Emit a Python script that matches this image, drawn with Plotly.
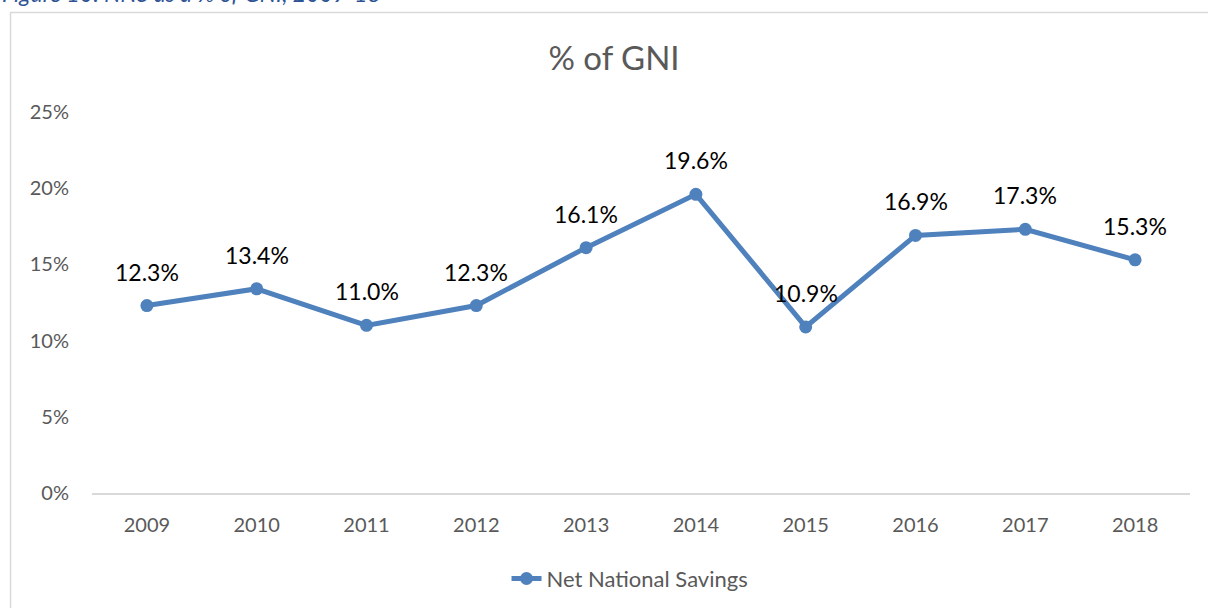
import plotly.graph_objects as go

years = ["2009", "2010", "2011", "2012", "2013", "2014", "2015", "2016", "2017", "2018"]
nns_pct = [12.3, 13.4, 11.0, 12.3, 16.1, 19.6, 10.9, 16.9, 17.3, 15.3]
y_ticks = [0, 5, 10, 15, 20, 25]
y_tick_labels = ["0%", "5%", "10%", "15%", "20%", "25%"]
series_name = "Net National Savings"
chart_title = "% of GNI"
caption = "Figure 10: NNS as a % of GNI, 2009-18"

FONT = "Lato, Calibri, 'Open Sans', sans-serif"
BLUE = "#4F81BD"
GRAY = "#595959"

idx = list(range(len(years)))

fig = go.Figure()
fig.add_trace(go.Scatter(
    x=idx, y=nns_pct, mode="lines+markers", name=series_name,
    line=dict(color=BLUE, width=5),
    marker=dict(color=BLUE, size=13),
    hoverinfo="skip",
))

annotations = []
for i, v in zip(idx, nns_pct):
    annotations.append(dict(
        x=i, y=v, xref="x", yref="y", text=f"{v:.1f}%", showarrow=False,
        yshift=34, font=dict(family=FONT, size=23, color="#000000"),
    ))
annotations.append(dict(
    x=-0.0838, y=(493 + 7) / 381, xref="paper", yref="paper", xanchor="left", yanchor="middle",
    text=f"<i>{caption}</i>", showarrow=False,
    font=dict(family=FONT, size=23, color="#2F5496"),
))

fig.update_layout(
    width=1208, height=608,
    margin=dict(l=92, r=18, t=112, b=115, autoexpand=False),
    paper_bgcolor="white", plot_bgcolor="white",
    title=dict(text=chart_title, x=614/1208, xref="container", xanchor="center",
               y=1 - 58/608, yanchor="middle",
               font=dict(family=FONT, size=33, color=GRAY)),
    xaxis=dict(range=[-0.5, len(years) - 0.5], tickvals=idx, ticktext=years,
               showgrid=False, showline=True, linecolor="#D9D9D9", automargin=False,
               linewidth=1.5, ticks="", ticklabelstandoff=13,
               tickfont=dict(family=FONT, size=20, color=GRAY), zeroline=False),
    yaxis=dict(range=[0, 25], tickvals=y_ticks, ticktext=y_tick_labels, showgrid=False,
               showline=False, zeroline=False, ticks="", ticklabelstandoff=22,
               automargin=False,
               tickfont=dict(family=FONT, size=20, color=GRAY)),
    showlegend=True,
    legend=dict(orientation="h", x=0.49, xanchor="center", y=-0.225, yanchor="middle",
                font=dict(family=FONT, size=22, color=GRAY)),
    annotations=annotations,
    shapes=[dict(type="rect", xref="paper", yref="paper",
                 x0=(10.5-92)/1098, x1=1.05, y0=-0.5, y1=(493-12.5)/381,
                 line=dict(color="#D9D9D9", width=1.5), fillcolor="rgba(0,0,0,0)",
                 layer="below")],
)

fig.write_html("out.html", config={"displayModeBar": False},
               post_script="document.body.style.margin='0';")
